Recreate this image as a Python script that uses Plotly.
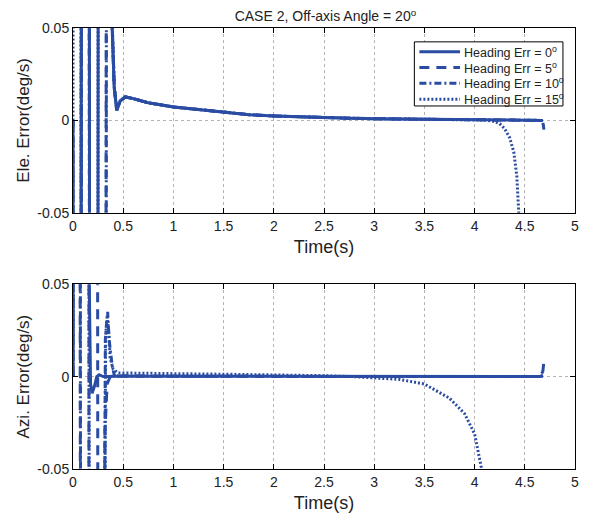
import plotly.graph_objects as go
from plotly.subplots import make_subplots

BLUE = '#2b4ca3'

# legend labels
names = ['Heading Err = 0<sup>o</sup>', 'Heading Err = 5<sup>o</sup>',
         'Heading Err = 10<sup>o</sup>', 'Heading Err = 15<sup>o</sup>']

# ---- Ele. error (top) : start-up oscillation, off-scale values get clipped
ele0_t = [0, 0.004, 0.078, 0.086, 0.160, 0.168, 0.246, 0.254, 0.37, 0.39, 0.41, 0.435]
ele0_y = [0, -0.3, -0.3, 0.3, 0.3, -0.3, -0.3, 0.3, 0.3, 0.05, 0.018, 0.0055]
ele5_t = [0, 0.004, 0.078, 0.086, 0.160, 0.168, 0.326, 0.334, 0.37, 0.39, 0.41, 0.435]
ele5_y = [0, -0.3, -0.3, 0.3, 0.3, -0.3, -0.3, 0.3, 0.3, 0.05, 0.018, 0.0055]
ele10_t = [0, 0.005, 0.080, 0.088, 0.158, 0.166, 0.328, 0.336, 0.372, 0.392, 0.412, 0.437]
ele10_y = [0, -0.3, -0.3, 0.3, 0.3, -0.3, -0.3, 0.3, 0.3, 0.05, 0.018, 0.0056]
ele15_t = [0, 0.003, 0.076, 0.084, 0.245, 0.253, 0.372, 0.392, 0.412, 0.437]
ele15_y = [0, 0.3, 0.3, -0.3, -0.3, 0.3, 0.3, 0.05, 0.018, 0.0056]

# common decay after the transient
ele_tail_t = [0.47, 0.52, 0.6, 0.75, 1.0, 1.25, 1.5, 1.75, 2.0, 2.25, 2.5, 2.75,
              3.0, 3.25, 3.5, 3.75, 4.0, 4.25, 4.5, 4.65]
ele_tail_y = [0.0105, 0.0127, 0.0118, 0.0095, 0.0073, 0.0058, 0.0046, 0.0031,
              0.0024, 0.0019, 0.0016, 0.0012, 0.0009, 0.0007, 0.0005, 0.0004,
              0.0003, 0.0002, 0.0001, 0.0]

# endings
ele0_end_t = [4.68]
ele0_end_y = [0.0]
ele5_end_t = [4.675, 4.685, 4.69]
ele5_end_y = [-0.0005, -0.0025, -0.005]
ele10_end_t = [4.68]
ele10_end_y = [0.0]
ele15_end_t = [4.1, 4.2, 4.25, 4.3, 4.35, 4.39, 4.42, 4.45]
ele15_end_y = [0.0002, -0.0006, -0.0018, -0.0045, -0.0095, -0.017, -0.03, -0.06]

# ---- Azi. error (bottom)
azi0_t = [0, 0.004, 0.150, 0.162, 0.175, 0.19, 0.215, 0.237, 0.26, 0.3, 0.35]
azi0_y = [0, 0.3, 0.3, 0.05, -0.004, -0.009, -0.005, 0.0, 0.001, 0.0, 0.0]
azi5_t = [0, 0.004, 0.068, 0.076, 0.155, 0.163, 0.242, 0.25, 0.30, 0.318, 0.34, 0.37]
azi5_y = [0, 0.3, 0.3, -0.3, -0.3, 0.3, 0.3, -0.3, -0.3, -0.03, -0.004, 0.0]
azi10_t = [0, 0.004, 0.070, 0.078, 0.30, 0.322, 0.333, 0.345, 0.36, 0.375, 0.39,
           0.41, 0.43, 0.45]
azi10_y = [0, 0.3, 0.3, -0.3, -0.3, 0.02, 0.028, 0.035, 0.02, 0.012, 0.006,
           0.001, -0.001, 0.0005]
azi15_t = [0, 0.004, 0.155, 0.165, 0.30, 0.325, 0.34, 0.355, 0.37, 0.40, 0.45]
azi15_y = [0, 0.3, 0.3, -0.3, -0.3, 0.022, 0.032, 0.025, 0.01, 0.004, 0.002]

azi_tail_t = [0.5, 0.75, 1.0, 1.5, 2.0, 2.5, 3.0, 3.5, 4.0, 4.5, 4.65]
azi_tail_y = [0.0003, 0.0002, 0.0002, 0.0001, 0.0001, 0.0, 0.0, 0.0, 0.0, 0.0, 0.0]

azi0_end_t = [4.68]
azi0_end_y = [0.0008]
azi5_end_t = [4.66, 4.68, 4.69]
azi5_end_y = [0.0005, 0.003, 0.008]
azi10_end_t = [4.68]
azi10_end_y = [0.0]
azi15_tail_t = [0.5, 0.75, 1.0, 1.5, 2.0, 2.5, 2.75, 3.0, 3.25, 3.5, 3.75, 3.9,
                4.0, 4.07, 4.1]
azi15_tail_y = [0.002, 0.0018, 0.0016, 0.0013, 0.001, 0.0005, 0.0001, -0.0005,
                -0.0015, -0.004, -0.0117, -0.02, -0.031, -0.05, -0.07]

xtick_vals = [0, 0.5, 1, 1.5, 2, 2.5, 3, 3.5, 4, 4.5, 5]
xtick_text = ['0', '0.5', '1', '1.5', '2', '2.5', '3', '3.5', '4', '4.5', '5']
ytick_vals = [-0.05, 0, 0.05]
ytick_text = ['-0.05', '0', '0.05']

dashes = ['solid', '10px,7px', '7px,3px,2px,3px', '2px,2px']
LW = 3

ele_series = [
    (ele0_t + ele_tail_t + ele0_end_t, ele0_y + ele_tail_y + ele0_end_y),
    (ele5_t + ele_tail_t + ele5_end_t, ele5_y + ele_tail_y + ele5_end_y),
    (ele10_t + ele_tail_t + ele10_end_t, ele10_y + ele_tail_y + ele10_end_y),
    (ele15_t + ele_tail_t[:-3] + ele15_end_t, ele15_y + ele_tail_y[:-3] + ele15_end_y),
]
azi_series = [
    (azi0_t + azi_tail_t + azi0_end_t, azi0_y + azi_tail_y + azi0_end_y),
    (azi5_t + azi_tail_t + azi5_end_t, azi5_y + azi_tail_y + azi5_end_y),
    (azi10_t + azi_tail_t + azi10_end_t, azi10_y + azi_tail_y + azi10_end_y),
    (azi15_t + azi15_tail_t, azi15_y + azi15_tail_y),
]

fig = make_subplots(rows=2, cols=1, vertical_spacing=0.162)

for i in range(4):
    t, y = ele_series[i]
    fig.add_trace(go.Scatter(x=t, y=y, mode='lines', name=names[i], showlegend=False,
                             line=dict(color=BLUE, width=LW, dash=dashes[i])),
                  row=1, col=1)
for i in range(4):
    t, y = azi_series[i]
    fig.add_trace(go.Scatter(x=t, y=y, mode='lines', name=names[i], showlegend=False,
                             line=dict(color=BLUE, width=LW, dash=dashes[i])),
                  row=2, col=1)

axis_style = dict(showline=True, linecolor='black', linewidth=1, mirror='ticks',
                  ticks='inside', ticklen=5, tickcolor='black',
                  showgrid=True, gridcolor='#b4b4b4', griddash='dot', gridwidth=1,
                  zeroline=False, tickfont=dict(size=14, color='#222'))

for r in (1, 2):
    fig.update_xaxes(range=[0, 5], tickvals=xtick_vals, ticktext=xtick_text,
                     title=dict(text='Time(s)', font=dict(size=18, color='#222'),
                                standoff=7),
                     row=r, col=1, **axis_style)
fig.update_yaxes(range=[-0.05, 0.05], tickvals=ytick_vals, ticktext=ytick_text,
                 title=dict(text='Ele. Error(deg/s)', font=dict(size=17, color='#222'),
                            standoff=3),
                 row=1, col=1, **axis_style)
fig.update_yaxes(range=[-0.05, 0.05], tickvals=ytick_vals, ticktext=ytick_text,
                 title=dict(text='Azi. Error(deg/s)', font=dict(size=17, color='#222'),
                            standoff=3),
                 row=2, col=1, **axis_style)

# boxed legend in the upper-right corner of the top panel
leg_box = dict(x0=0.680, x1=0.976, y0=0.578, y1=0.925)
leg_rows = [0.872, 0.786, 0.701, 0.615]
fig.add_shape(type='rect', xref='x domain', yref='y domain', **leg_box,
              line=dict(color='black', width=1), fillcolor='white', layer='above')
for i in range(4):
    fig.add_shape(type='line', xref='x domain', yref='y domain',
                  x0=0.690, x1=0.771, y0=leg_rows[i], y1=leg_rows[i],
                  line=dict(color=BLUE, width=LW, dash=dashes[i]), layer='above')
    fig.add_annotation(xref='x domain', yref='y domain', x=0.775, y=leg_rows[i],
                       xanchor='left', yanchor='middle', text=names[i],
                       showarrow=False, font=dict(size=12.5, color='#222'))

# page body keeps an 8px margin, so the figure is 16px smaller than the window
fig.update_layout(
    width=575, height=505,
    margin=dict(l=65, r=4, t=20, b=40),
    paper_bgcolor='white', plot_bgcolor='white',
    font=dict(family='Liberation Sans, Arial, sans-serif', color='#222'),
    title=dict(text='CASE 2, Off-axis Angle = 20<sup>o</sup>', x=0.552, xanchor='center',
               y=0.983, yanchor='middle', font=dict(size=14, color='#222')),
    showlegend=False,
)

fig.write_html('out.html')
